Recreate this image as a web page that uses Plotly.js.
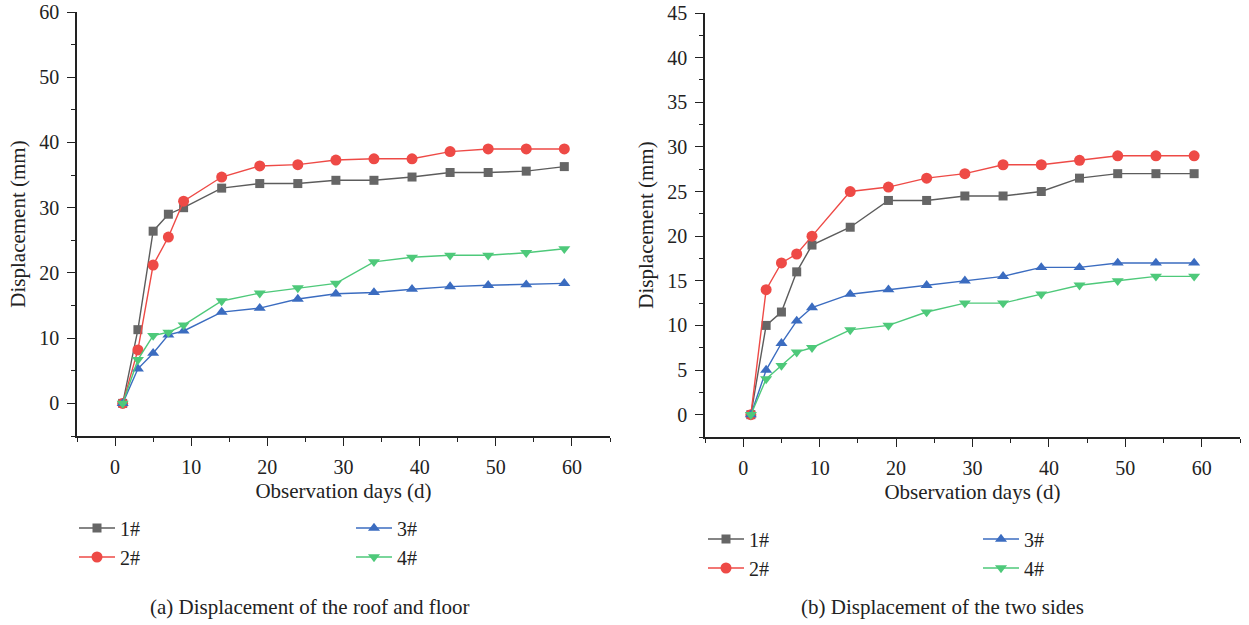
<!DOCTYPE html>
<html>
<head>
<meta charset="utf-8">
<script src="https://cdn.plot.ly/plotly-3.0.1.min.js"></script>
<style>html,body{margin:0;padding:0;background:#fff;}#chart{width:1249px;height:625px;}</style>
</head>
<body>
<div id="chart"></div>
<script>
// ---- data ----
const days = [1, 3, 5, 7, 9, 14, 19, 24, 29, 34, 39, 44, 49, 54, 59];
const seriesNames = ["1#", "2#", "3#", "4#"];

// (a) roof and floor displacement (mm)
const roof1 = [0, 11.3, 26.4, 29.0, 30.0, 33.0, 33.7, 33.7, 34.2, 34.2, 34.7, 35.4, 35.4, 35.6, 36.3];
const roof2 = [0, 8.2, 21.2, 25.5, 31.0, 34.7, 36.4, 36.6, 37.3, 37.5, 37.5, 38.6, 39.0, 39.0, 39.0];
const roof3 = [0, 5.3, 7.7, 10.5, 11.1, 14.0, 14.6, 16.0, 16.8, 17.0, 17.5, 17.9, 18.1, 18.2, 18.4];
const roof4 = [0, 6.7, 10.4, 10.9, 12.0, 15.7, 16.9, 17.7, 18.4, 21.7, 22.4, 22.7, 22.7, 23.1, 23.7];

// (b) two sides displacement (mm)
const sides1 = [0, 10, 11.5, 16, 19, 21, 24, 24, 24.5, 24.5, 25, 26.5, 27, 27, 27];
const sides2 = [0, 14, 17, 18, 20, 25, 25.5, 26.5, 27, 28, 28, 28.5, 29, 29, 29];
const sides3 = [0, 5, 8, 10.5, 12, 13.5, 14, 14.5, 15, 15.5, 16.5, 16.5, 17, 17, 17];
const sides4 = [0, 4, 5.5, 7, 7.5, 9.5, 10, 11.5, 12.5, 12.5, 13.5, 14.5, 15, 15.5, 15.5];

const xTitle = "Observation days (d)";
const yTitle = "Displacement (mm)";
const captionA = "(a) Displacement of the roof and floor";
const captionB = "(b) Displacement of the two sides";

// ---- styling ----
const FONT = "Liberation Serif, Times New Roman, serif";
const styles = [
  {line: "#5c5c5c", fill: "#666666", symbol: "square", size: 9},
  {line: "#ee4a46", fill: "#ee4a46", symbol: "circle", size: 11},
  {line: "#3b6cc0", fill: "#3b6cc0", symbol: "triangle-up", size: 10.5},
  {line: "#4ec97a", fill: "#4ec97a", symbol: "triangle-down", size: 10.5}
];

const W = 1249, H = 625;
const px = v => v / W;
const py = v => 1 - v / H;

function mk(yv, i, xa, ya, legendId) {
  const s = styles[i];
  return {
    x: days, y: yv, type: "scatter", mode: "lines+markers",
    name: seriesNames[i], xaxis: xa, yaxis: ya, legend: legendId,
    line: {color: s.line, width: 1.4},
    marker: {symbol: s.symbol, size: s.size, color: s.fill, line: {width: 0}},
    hoverinfo: "x+y+name"
  };
}

const roof = [roof1, roof2, roof3, roof4];
const sides = [sides1, sides2, sides3, sides4];
const traces = [];
roof.forEach((v, i) => traces.push(mk(v, i, "x", "y", i === 0 ? "legend" : "legend" + (i + 1))));
sides.forEach((v, i) => traces.push(mk(v, i, "x2", "y2", "legend" + (i + 5))));

function xAxis(domain, anchor) {
  return {
    domain: domain, anchor: anchor, range: [-5, 65], dtick: 10, tick0: 0,
    showline: true, linecolor: "#222", linewidth: 1.5, mirror: false,
    ticks: "outside", ticklen: 8, tickwidth: 1.3, tickcolor: "#222",
    minor: {dtick: 5, tick0: 0, ticks: "outside", ticklen: 4, tickwidth: 1.3, tickcolor: "#222"},
    showgrid: false, zeroline: false, automargin: false,
    tickfont: {family: FONT, size: 20, color: "#222"},
    ticklabelstandoff: 4,
    title: {text: xTitle, font: {family: FONT, size: 21, color: "#222"}, standoff: 7}
  };
}
function yAxis(domain, anchor, range, dtick) {
  return {
    domain: domain, anchor: anchor, range: range, dtick: dtick, tick0: 0,
    showline: true, linecolor: "#222", linewidth: 1.5, mirror: false,
    ticks: "outside", ticklen: 8, tickwidth: 1.3, tickcolor: "#222",
    minor: {dtick: dtick / 2, tick0: 0, ticks: "outside", ticklen: 4, tickwidth: 1.3, tickcolor: "#222"},
    showgrid: false, zeroline: false, automargin: false,
    tickfont: {family: FONT, size: 20, color: "#222"},
    ticklabelstandoff: 4,
    title: {text: yTitle, font: {family: FONT, size: 21, color: "#222"}, standoff: 8}
  };
}

function legendAt(x, y) {
  return {
    x: px(x), y: py(y), xanchor: "left", yanchor: "middle",
    orientation: "v", bgcolor: "rgba(0,0,0,0)", borderwidth: 0,
    itemwidth: 36, font: {family: FONT, size: 20, color: "#222"},
    itemclick: false, itemdoubleclick: false
  };
}

const layout = {
  width: W, height: H,
  margin: {l: 0, r: 0, t: 0, b: 0},
  paper_bgcolor: "#ffffff", plot_bgcolor: "#ffffff",
  font: {family: FONT, size: 20, color: "#222"},
  showlegend: true,
  xaxis: xAxis([px(77), px(610)], "y"),
  yaxis: yAxis([py(436), py(12)], "x", [-5, 60], 10),
  xaxis2: xAxis([px(705), px(1240)], "y2"),
  yaxis2: yAxis([py(437), py(13)], "x2", [-2.5, 45], 5),
  legend: legendAt(74, 528),
  legend2: legendAt(74, 557),
  legend3: legendAt(351, 528),
  legend4: legendAt(351, 557),
  legend5: legendAt(703, 539),
  legend6: legendAt(703, 568),
  legend7: legendAt(978, 539),
  legend8: legendAt(978, 568),
  annotations: [
    {text: captionA, x: px(310), y: py(607), xref: "paper", yref: "paper",
     xanchor: "center", yanchor: "middle", showarrow: false,
     font: {family: FONT, size: 21, color: "#222"}},
    {text: captionB, x: px(942), y: py(607), xref: "paper", yref: "paper",
     xanchor: "center", yanchor: "middle", showarrow: false,
     font: {family: FONT, size: 21, color: "#222"}}
  ]
};

Plotly.newPlot("chart", traces, layout, {displayModeBar: false, staticPlot: false, responsive: false});
</script>
</body>
</html>
